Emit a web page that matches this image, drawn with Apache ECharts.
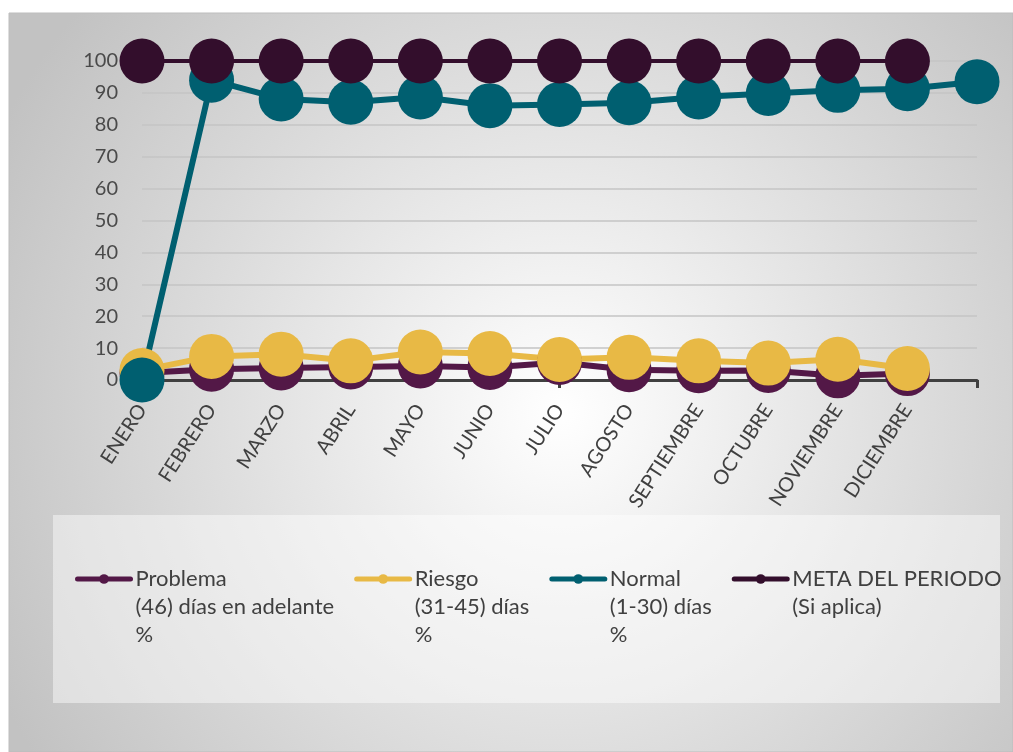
<!DOCTYPE html>
<html><head><meta charset="utf-8">
<script src="https://cdn.jsdelivr.net/npm/echarts@6/dist/echarts.min.js"></script>
<style>html,body{margin:0;padding:0;background:#fff}#c{width:1013px;height:752px}</style>
</head><body><div id="c"></div>
<script>
const categories = ['ENERO','FEBRERO','MARZO','ABRIL','MAYO','JUNIO','JULIO','AGOSTO','SEPTIEMBRE','OCTUBRE','NOVIEMBRE','DICIEMBRE',''];
const problema = [2.2,3.4,3.8,4.1,4.4,3.9,5.5,3.2,2.9,3.0,1.3,2.0];
const riesgo = [3.0,7.4,8.1,6.0,8.8,8.3,6.4,7.1,6.0,5.3,6.5,3.6];
const normal = [0,94,88.1,87.1,88.7,86.0,86.4,86.9,88.7,89.8,90.8,91.3,93.5];
const meta = [100,100,100,100,100,100,100,100,100,100,100,100];
const seriesNames = ['Problema\n(46) días en adelante\n%','Riesgo\n(31-45) días\n%','Normal\n(1-30) días\n%','META DEL PERIODO\n(Si aplica)'];
const seriesData = [problema, riesgo, normal, meta];
const colors = ['#531847','#e8b945','#005f70','#330e2c'];
const lineWidths = [6,6,6,4];
const yMin = 0, yMax = 100, yInterval = 10;

const FONT = 'Lato';
const LH = 28;
const chart = echarts.init(document.getElementById('c'), null, {renderer:'canvas'});
chart.setOption({
  animation:false,
  textStyle:{fontFamily:FONT},
  graphic:[
    {type:'rect', z:-10, silent:true, shape:{x:9,y:13,width:1004,height:739},
     style:{fill:{type:'radial',x:0.55,y:0.54,r:0.85,colorStops:[{offset:0,color:'#ffffff'},{offset:1,color:'#c2c2c2'}]},
            stroke:'#bdbdbd',lineWidth:1}},
    {type:'rect', z:-9, silent:true, shape:{x:53,y:515,width:947,height:188},
     style:{fill:'rgba(255,255,255,0.45)'}}
  ],
  grid:{left:142,right:36,top:61,bottom:372},
  xAxis:{type:'category',data:categories,boundaryGap:false,
    axisLine:{lineStyle:{color:'#404040',width:3}},
    axisTick:{show:true,length:8,lineStyle:{color:'#404040',width:3}},
    axisLabel:{rotate:57,margin:26,color:'#404040',fontSize:20,fontFamily:FONT,interval:0},
    splitLine:{show:false}},
  yAxis:{type:'value',min:yMin,max:yMax,interval:yInterval,
    axisLine:{show:false},axisTick:{show:false},
    axisLabel:{margin:24,color:'#4a4a4a',fontSize:20,fontFamily:FONT},
    splitLine:{lineStyle:{color:'#c4c4c4',width:1.5}}},
  legend:{
    orient:'horizontal',left:75,top:509,width:935,padding:0,itemGap:20,itemWidth:53,itemHeight:12,
    itemStyle:{borderWidth:0},
    lineStyle:{width:5,cap:'round'},
    textStyle:{color:'#404040',fontSize:22,fontFamily:FONT,lineHeight:LH},
    formatter:function(name){
      const lines = name.split('\n').length;
      return '\n'.repeat(lines-1) + name;
    },
    data:seriesNames
  },
  series:seriesNames.map(function(n,i){
    return {type:'line',name:n,data:seriesData[i],symbol:'circle',symbolSize:45,showAllSymbol:true,
      clip:false,
      itemStyle:{color:colors[i],borderWidth:0},
      lineStyle:{color:colors[i],width:lineWidths[i]},
      emphasis:{disabled:true}};
  })
});
</script></body></html>
